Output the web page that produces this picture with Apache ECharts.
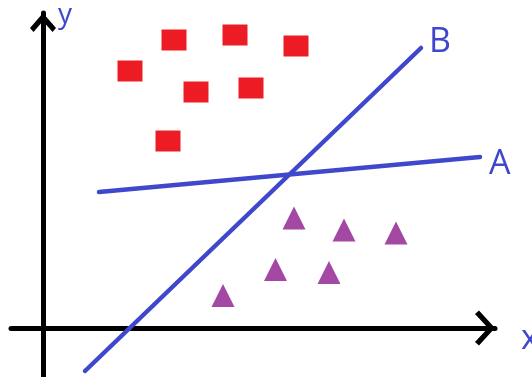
<!DOCTYPE html>
<html>
<head>
<meta charset="utf-8">
<script src="https://cdn.jsdelivr.net/npm/echarts@6/dist/echarts.min.js"></script>
<style>
  html, body { margin: 0; padding: 0; background: #fff; }
  #main { width: 532px; height: 377px; }
</style>
</head>
<body>
<div id="main"></div>
<script>
// two classes of points, two separating lines (A, B)
var squares = [
  [13.1, 28.8], [19.2, 29.3], [25.3, 28.2], [8.7, 25.7],
  [15.3, 23.6], [20.8, 24.0], [12.5, 18.7]
];
var triangles = [
  [25.1, 11.0], [30.1, 9.8], [35.3, 9.5],
  [23.25, 5.85], [28.6, 5.55], [18.0, 3.25]
];
var lineA = [[5.6, 13.6], [43.7, 17.1]];
var lineB = [[4.2, -4.3], [37.8, 28.0]];
var xRange = [-3.2, 45.2];
var yRange = [-4.9, 31.5];

var blue = '#3f48cc';
// open chevron arrows, drawn pointing up
var arrowY = 'path://M13 0 L26 15 L22.5 19 L13 8 L3.5 19 L0 15 Z';
var arrowX = 'path://M17.5 0 L35 16 L31.5 20 L17.5 7 L3.5 20 L0 16 Z';

function lineSeries(name, data) {
  return {
    name: name,
    type: 'line',
    data: data,
    symbol: 'none',
    lineStyle: { color: blue, width: 4.5, cap: 'round' },
    endLabel: {
      show: true,
      formatter: '{a}',
      fontFamily: 'Open Sans',
      fontSize: 34,
      color: blue,
      offset: name === 'A' ? [1, 7.5] : [0, -5.5]
    },
    z: 3
  };
}

var chart = echarts.init(document.getElementById('main'));
chart.setOption({
  animation: false,
  grid: { left: 11, right: 37, top: 13, bottom: 0, outerBoundsMode: 'none', containLabel: false },
  xAxis: {
    type: 'value',
    min: xRange[0],
    max: xRange[1],
    name: 'x',
    nameLocation: 'end',
    nameGap: 26,
    nameTextStyle: { fontFamily: 'Open Sans', fontSize: 34, color: blue, verticalAlign: 'top', lineHeight: 22 },
    axisLine: {
      onZero: true,
      symbol: ['none', arrowX],
      symbolSize: [35, 20],
      symbolOffset: [0, -10],
      lineStyle: { color: '#000', width: 5 }
    },
    axisTick: { show: false },
    axisLabel: { show: false },
    splitLine: { show: false }
  },
  yAxis: {
    type: 'value',
    min: yRange[0],
    max: yRange[1],
    name: 'y',
    nameLocation: 'end',
    nameGap: -2,
    nameTextStyle: { fontFamily: 'Open Sans', fontSize: 28, color: blue, align: 'left', verticalAlign: 'middle', padding: [0, 0, 0, 15] },
    axisLine: {
      onZero: true,
      symbol: ['none', arrowY],
      symbolSize: [26, 19],
      symbolOffset: [0, -9.5],
      lineStyle: { color: '#000', width: 5 }
    },
    axisTick: { show: false },
    axisLabel: { show: false },
    splitLine: { show: false }
  },
  series: [
    {
      type: 'scatter',
      data: squares,
      symbol: 'rect',
      symbolSize: [25, 21],
      itemStyle: { color: '#ed1c24', opacity: 1 }
    },
    {
      type: 'scatter',
      data: triangles,
      symbol: 'triangle',
      symbolSize: [23, 23],
      itemStyle: { color: '#a349a4', opacity: 1 }
    },
    lineSeries('A', lineA),
    lineSeries('B', lineB)
  ]
});
</script>
</body>
</html>
